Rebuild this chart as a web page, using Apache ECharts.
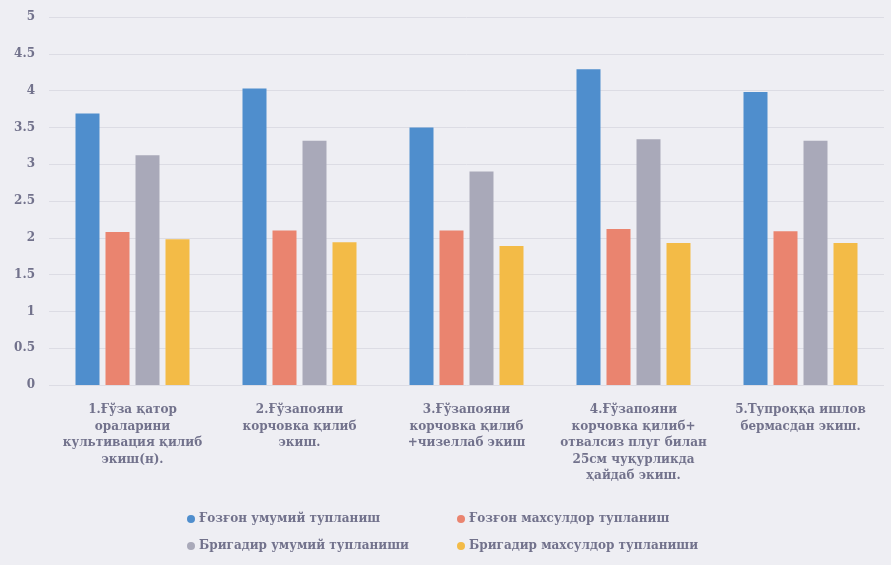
<!DOCTYPE html>
<html><head><meta charset="utf-8">
<script src="https://cdn.jsdelivr.net/npm/echarts@6/dist/echarts.min.js"></script>
<style>html,body{margin:0;padding:0;background:#eeeef3;}#c{width:891px;height:565px;}</style>
</head><body><div id="c"></div>
<script>
const categories = [
  "1.Ғўза қатор\nораларини\nкультивация қилиб\nэкиш(н).",
  "2.Ғўзапояни\nкорчовка қилиб\nэкиш.",
  "3.Ғўзапояни\nкорчовка қилиб\n+чизеллаб экиш",
  "4.Ғўзапояни\nкорчовка қилиб+\nотвалсиз плуг билан\n25см чуқурликда\nҳайдаб экиш.",
  "5.Тупроққа ишлов\nбермасдан экиш."
];
const seriesNames = [
  "Ғозғон умумий тупланиш",
  "Ғозғон махсулдор тупланиш",
  "Бригадир умумий тупланиши",
  "Бригадир махсулдор тупланиши"
];
const gozgonTotal = [3.69, 4.03, 3.50, 4.29, 3.98];
const gozgonProductive = [2.08, 2.10, 2.10, 2.12, 2.09];
const brigadirTotal = [3.12, 3.32, 2.90, 3.34, 3.32];
const brigadirProductive = [1.98, 1.94, 1.89, 1.93, 1.93];
const yTicks = [0, 0.5, 1, 1.5, 2, 2.5, 3, 3.5, 4, 4.5, 5];

const colors = ["#4f8ecd", "#ea846f", "#a9a9b9", "#f3bb47"];
const values = [gozgonTotal, gozgonProductive, brigadirTotal, brigadirProductive];
const txt = "#72728c";
const font = "'DejaVu Serif', serif";

const legendPos = [[182, 508], [452, 508], [182, 535], [452, 535]];

const chart = echarts.init(document.getElementById('c'));
chart.setOption({
  backgroundColor: "#eeeef3",
  animation: false,
  color: colors,
  grid: { left: 49, right: 7, top: 17, bottom: 180, containLabel: false },
  legend: seriesNames.map((n, i) => ({
    data: [n], left: legendPos[i][0], top: legendPos[i][1],
    icon: 'circle', itemWidth: 8, itemHeight: 8, itemGap: 4,
    textStyle: { color: txt, fontFamily: font, fontWeight: 'bold', fontSize: 12, padding: [0, 0, 0, -1] }
  })),
  xAxis: {
    type: 'category', data: categories,
    axisLine: { show: false }, axisTick: { show: false },
    axisLabel: { interval: 0, margin: 17, color: txt, fontFamily: font, fontWeight: 'bold', fontSize: 12, lineHeight: 16.5 }
  },
  yAxis: {
    type: 'value', min: yTicks[0], max: yTicks[yTicks.length - 1], interval: 0.5,
    axisLine: { show: false }, axisTick: { show: false },
    axisLabel: { margin: 14, color: txt, fontFamily: font, fontWeight: 'bold', fontSize: 12 },
    splitLine: { lineStyle: { color: "#dcdce4", width: 1 } }
  },
  series: seriesNames.map((n, i) => ({
    name: n, type: 'bar', data: values[i],
    barWidth: 24, barGap: '25%', barCategoryGap: '31%',
    itemStyle: { color: colors[i] }
  }))
});
</script></body></html>
